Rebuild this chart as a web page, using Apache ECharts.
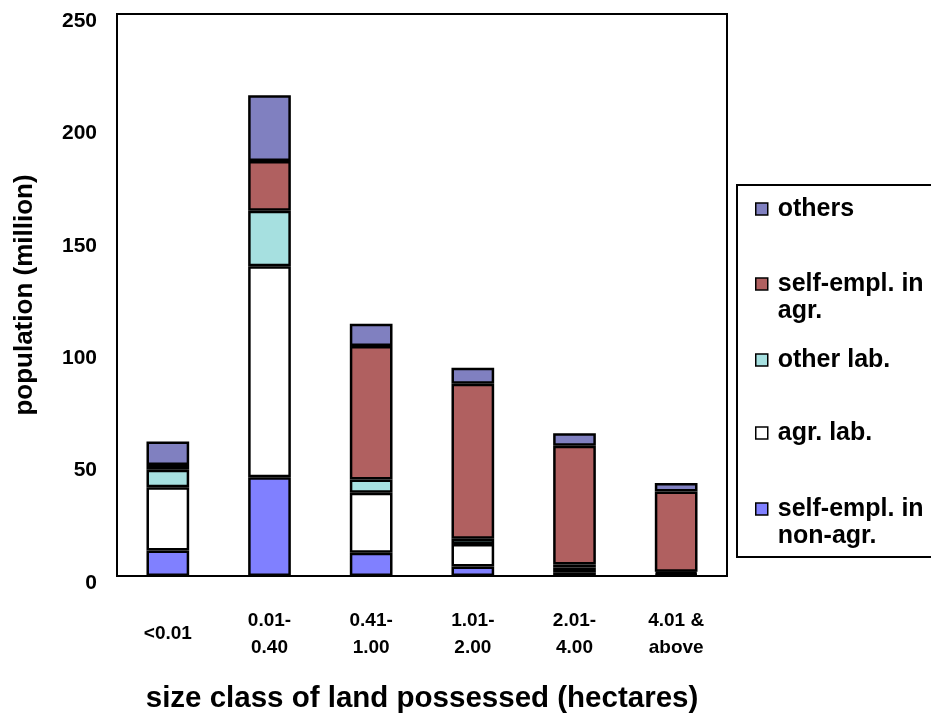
<!DOCTYPE html>
<html>
<head>
<meta charset="utf-8">
<script src="https://cdn.jsdelivr.net/npm/echarts@6/dist/echarts.min.js"></script>
<style>html,body{margin:0;padding:0;background:#fff;}#c{width:931px;height:719px;}</style>
</head>
<body>
<div id="c"></div>
<script>
const categories = ['<0.01', '0.01-\n0.40', '0.41-\n1.00', '1.01-\n2.00', '2.01-\n4.00', '4.01 &\nabove'];
const selfEmplNonAgr = [11.3, 43.9, 10.3, 4.2, 1.7, 0.6];
const agrLab = [28.2, 93.9, 26.7, 10.0, 2.1, 0.6];
const otherLab = [7.8, 24.7, 5.9, 2.4, 1.3, 0.7];
const selfEmplAgr = [2.1, 22.1, 59.4, 68.9, 52.8, 35.7];
const others = [10.4, 29.3, 9.9, 7.1, 5.6, 3.8];
const yTicks = { min: 0, max: 250, interval: 50 };

const FONT = '"Liberation Sans", Arial, sans-serif';
const seriesDefs = [
  { name: 'self-empl. in non-agr.', label: '\u00a0\nself-empl. in\nnon-agr.', data: selfEmplNonAgr, color: '#8080FF' },
  { name: 'agr. lab.', label: 'agr. lab.', data: agrLab, color: '#FFFFFF' },
  { name: 'other lab.', label: 'other lab.', data: otherLab, color: '#A6E0E0' },
  { name: 'self-empl. in agr.', label: '\u00a0\nself-empl. in\nagr.', data: selfEmplAgr, color: '#B06060' },
  { name: 'others', label: 'others', data: others, color: '#8080C0' }
];
const legendCenters = { 'others': 208, 'self-empl. in agr.': 283, 'other lab.': 359, 'agr. lab.': 432, 'self-empl. in non-agr.': 508 };

const chart = echarts.init(document.getElementById('c'));
const LH = 27;
const legends = seriesDefs.map(s => {
  const lines = s.label.split('\n').length;
  const h = LH * lines;
  return {
    data: [s.name],
    left: 755,
    top: legendCenters[s.name] - h / 2 + 1,
    padding: 0,
    itemWidth: 12,
    itemHeight: 12,
    icon: 'rect',
    selectedMode: false,
    itemStyle: { borderColor: '#000', borderWidth: 1.5 },
    formatter: () => s.label,
    textStyle: {
      fontFamily: FONT, fontWeight: 'bold', fontSize: 25, color: '#000',
      lineHeight: LH, padding: [0, 0, 0, 5]
    }
  };
});

chart.setOption({
  animation: false,
  backgroundColor: '#fff',
  graphic: [{
    type: 'rect', z: -1,
    shape: { x: 737, y: 185, width: 300, height: 372 },
    style: { fill: '#fff', stroke: '#000', lineWidth: 2 }
  }],
  legend: legends,
  grid: { left: 117, right: 204, top: 14, bottom: 140, show: true, borderColor: '#000', borderWidth: 2, backgroundColor: 'transparent' },
  xAxis: {
    type: 'category',
    data: categories,
    axisLine: { show: true, lineStyle: { color: '#000', width: 2 } },
    axisTick: { show: false },
    axisLabel: { fontFamily: FONT, fontWeight: 'bold', fontSize: 19, color: '#000', lineHeight: 27, verticalAlign: 'middle', margin: 58, interval: 0 },
    name: 'size class of land possessed (hectares)',
    nameLocation: 'middle',
    nameGap: 123,
    nameTextStyle: { fontFamily: FONT, fontWeight: 'bold', fontSize: 29.5, color: '#000', verticalAlign: 'middle' }
  },
  yAxis: {
    type: 'value',
    min: yTicks.min, max: yTicks.max, interval: yTicks.interval,
    splitLine: { show: false },
    axisLine: { show: true, lineStyle: { color: '#000', width: 2 } },
    axisTick: { show: false },
    axisLabel: { fontFamily: FONT, fontWeight: 'bold', fontSize: 21, color: '#000', margin: 20, verticalAlign: 'top', lineHeight: 14 },
    name: 'population (million)',
    nameLocation: 'middle',
    nameGap: 92,
    nameRotate: 90,
    nameTextStyle: { fontFamily: FONT, fontWeight: 'bold', fontSize: 26, color: '#000', verticalAlign: 'middle' }
  },
  series: seriesDefs.map(s => ({
    type: 'bar',
    name: s.name,
    stack: 'total',
    data: s.data,
    barWidth: '42%',
    itemStyle: { color: s.color, borderColor: '#000', borderWidth: 2.5 },
    emphasis: { disabled: true }
  }))
});
</script>
</body>
</html>
